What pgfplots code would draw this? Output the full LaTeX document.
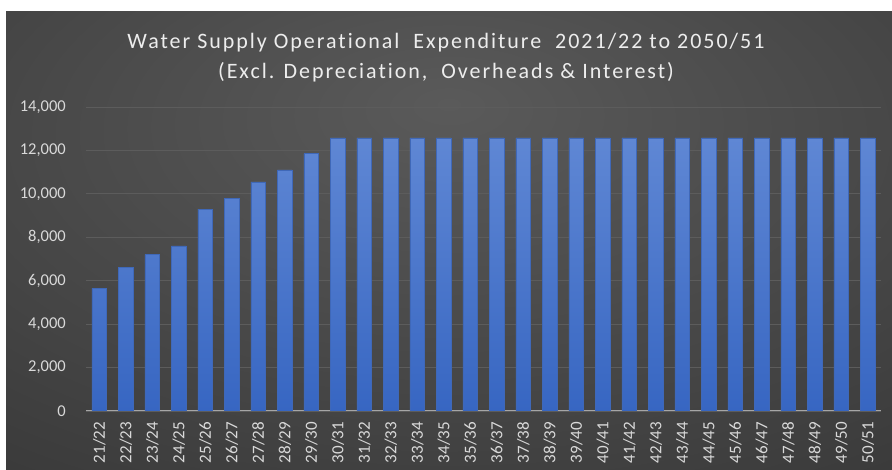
\documentclass[border=0pt]{standalone}
\usepackage{pgfplots}
\pgfplotsset{compat=1.18}
\usepackage{fontspec}
\setmainfont{Carlito}
\newfontfamily\titlefont[LetterSpace=9, Ligatures={NoCommon}]{Carlito}
\definecolor{bgin}{HTML}{5A5A5A}
\definecolor{bgout}{HTML}{262626}
\definecolor{tickc}{HTML}{D9D9D9}
\definecolor{titlec}{HTML}{EDEDED}
\definecolor{gridc}{HTML}{5C5C5C}
\definecolor{axisc}{HTML}{A6A6A6}
\definecolor{bartop}{HTML}{5F87D4}
\definecolor{barbot}{HTML}{3766C2}
\definecolor{baredge}{HTML}{3F68B8}
\pgfdeclareradialshading{bgshade}{\pgfpoint{0bp}{15bp}}{color(0bp)=(bgin); color(70bp)=(bgout); color(100bp)=(bgout)}
\begin{document}
\begin{tikzpicture}[x=1pt,y=1pt]
\fill[white] (0,0) rectangle (892,470);
\shade[shading=bgshade] (6,0) rectangle (892,458);
\node[align=center, text=titlec, font=\titlefont\fontsize{22}{30}\selectfont] at (446,412)
  {Water Supply Operational\ \ Expenditure\ \ 2021/22 to 2050/51\\(Excl. Depreciation,\ \ Overheads \& Interest)};
\begin{axis}[
  at={(86pt,59pt)}, anchor=south west,
  scale only axis, width=795pt, height=304pt,
  xmin=-0.5, xmax=29.5, ymin=0, ymax=14000,
  ytick={0,2000,...,14000},
  xtick={0,...,29},
  xticklabels={21/22,22/23,23/24,24/25,25/26,26/27,27/28,28/29,29/30,30/31,31/32,32/33,33/34,34/35,35/36,36/37,37/38,38/39,39/40,40/41,41/42,42/43,43/44,44/45,45/46,46/47,47/48,48/49,49/50,50/51},
  axis x line=bottom, axis y line=left,
  x axis line style={-, draw=axisc, line width=1pt},
  y axis line style={draw=none},
  major tick length=0pt,
  ymajorgrids, grid style={gridc, line width=0.8pt},
  /pgf/number format/assume math mode=true,
  /pgf/number format/1000 sep={,},
  scaled y ticks=false,
  yticklabel style={font=\fontsize{16.5}{16.5}\selectfont, text=tickc, inner sep=0pt, anchor=east, xshift=-20pt},
  xticklabel style={font=\fontsize{17}{17}\selectfont, text=tickc, inner sep=0pt, rotate=90, anchor=east},
  xticklabel shift=11pt,
]
\addplot[ybar, bar width=14.6pt, top color=bartop, bottom color=barbot, draw=baredge, line width=0.5pt] coordinates {
(0,5650) (1,6600) (2,7200) (3,7600) (4,9300) (5,9800) (6,10550) (7,11100) (8,11850)
(9,12580) (10,12580) (11,12580) (12,12580) (13,12580) (14,12580) (15,12580) (16,12580)
(17,12580) (18,12580) (19,12580) (20,12580) (21,12580) (22,12580) (23,12580) (24,12580)
(25,12580) (26,12580) (27,12580) (28,12580) (29,12580)
};
\end{axis}
\end{tikzpicture}
\end{document}
